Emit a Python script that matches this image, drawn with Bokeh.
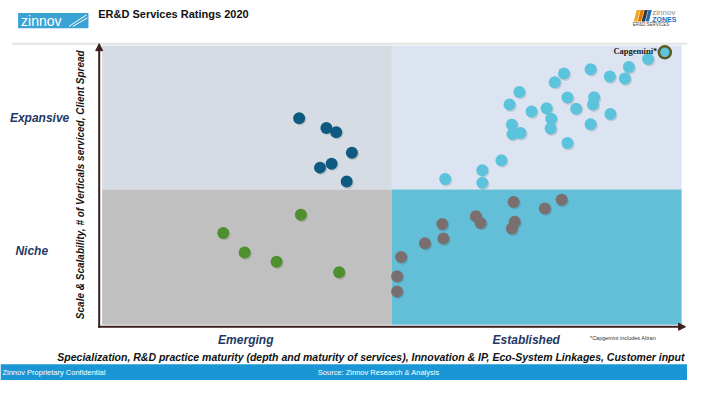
from bokeh.plotting import figure
from bokeh.models import Range1d, Label, Arrow, NormalHead
from bokeh.embed import file_html
from bokeh.resources import INLINE
import math

# ---------------- data (scores on 0-10 scales) ----------------
quad_left = [0, 5, 0, 5]
quad_right = [5, 10, 5, 10]
quad_bottom = [4.85, 4.85, 0, 0]
quad_top = [10, 10, 4.85, 4.85]
quad_colors = ["#D6DCE4", "#DCE4F2", "#C0C0C0", "#62BFD7"]

emerging_expansive_x = [3.40, 3.87, 4.04, 4.31, 3.96, 3.76, 4.22]
emerging_expansive_y = [7.40, 7.05, 6.90, 6.16, 5.77, 5.63, 5.13]

emerging_niche_x = [3.43, 2.09, 2.46, 3.01, 4.09]
emerging_niche_y = [3.94, 3.29, 2.59, 2.26, 1.88]

established_niche_x = [7.10, 7.93, 7.64, 6.45, 6.53, 7.12, 7.07, 5.87, 5.89, 5.57, 5.16, 5.09, 5.09]
established_niche_y = [4.40, 4.48, 4.17, 3.89, 3.65, 3.69, 3.45, 3.61, 3.09, 2.92, 2.43, 1.74, 1.19]

established_expansive_x = [9.42, 9.09, 9.02, 8.76, 8.43, 7.97, 7.81, 7.20, 8.03, 8.49, 8.47, 8.18,
                           7.03, 7.41, 7.67, 7.75, 7.74, 8.77, 8.43, 7.07, 7.08, 7.22, 8.03, 6.89,
                           6.56, 6.56, 5.92]
established_expansive_y = [9.52, 9.23, 8.82, 8.89, 9.15, 9.00, 8.69, 8.34, 8.14, 8.15, 7.89, 7.74,
                           7.89, 7.64, 7.76, 7.38, 7.03, 7.55, 7.18, 7.17, 6.83, 6.87, 6.51, 5.89,
                           5.54, 5.09, 5.22]

highlight_name = ["Capgemini*"]
highlight_x = [9.71]
highlight_y = [9.76]

y_categories = ["Expansive", "Niche"]
x_categories = ["Emerging", "Established"]
y_title = "Scale & Scalability, # of Verticals serviced, Client Spread"
x_title = ("Specialization, R&D practice maturity (depth and maturity of services), "
           "Innovation & IP, Eco-System Linkages, Customer input")
chart_title = "ER&D Services Ratings 2020"
footnote = "*Capgemini includes Altran"
footer_left = "Zinnov Proprietary Confidential"
footer_center = "Source: Zinnov Research & Analysis"

# ---------------- layout helpers (reference pixel -> score space) ----------------
X0, XS = 104.0, 59.3
Y0, YS = 338.0, 29.1


def X(px):
    return (px - X0) / XS


def Y(py):
    return (Y0 - py) / YS


W, H = 687, 380
p = figure(width=W, height=H, output_backend="svg", toolbar_location=None,
           x_range=Range1d(X(0), X(703)), y_range=Range1d(Y(396), Y(0)),
           min_border=0)
p.axis.visible = False
p.xgrid.visible = False
p.ygrid.visible = False
p.outline_line_color = None
p.background_fill_color = "white"
p.border_fill_color = "white"

FONT = "Liberation Sans"

# quadrants
p.quad(left=quad_left, right=quad_right, bottom=quad_bottom, top=quad_top,
       fill_color=quad_colors, line_color=None)


def dots(xs, ys, color):
    p.scatter([x + 0.02 for x in xs], [y - 0.05 for y in ys], size=12,
              fill_color="#000000", fill_alpha=0.12, line_color=None)
    p.scatter(xs, ys, size=12, fill_color=color, line_color=None)


dots(emerging_expansive_x, emerging_expansive_y, "#0F5A80")
dots(emerging_niche_x, emerging_niche_y, "#4E8F2E")
dots(established_niche_x, established_niche_y, "#7B6E6E")
dots(established_expansive_x, established_expansive_y, "#5BC3DB")
p.scatter(highlight_x, highlight_y, size=12, fill_color="#5BC3DB",
          line_color="#5E5A1E", line_width=2.5)
p.text(x=[highlight_x[0] - 0.13], y=[highlight_y[0] + 0.05], text=highlight_name,
       text_font_size="8.5px", text_font_style="bold", text_align="right",
       text_baseline="middle", text_color="#1A1A1A", text_font="Liberation Serif")

# axes arrows
arrow_color = "#3B1E1E"
p.add_layout(Arrow(end=NormalHead(size=7, fill_color=arrow_color, line_color=arrow_color),
                   x_start=X(101), y_start=Y(341), x_end=X(101), y_end=Y(45),
                   line_color=arrow_color, line_width=2))
p.add_layout(Arrow(end=NormalHead(size=7, fill_color=arrow_color, line_color=arrow_color),
                   x_start=X(100), y_start=Y(340), x_end=X(701), y_end=Y(340),
                   line_color=arrow_color, line_width=2))

# category labels
navy = "#1F3864"
for txt, px, py in [(y_categories[0], 40, 122), (y_categories[1], 32, 261),
                    (x_categories[0], 251, 354), (x_categories[1], 538, 354)]:
    p.add_layout(Label(x=X(px), y=Y(py), text=txt, text_font=FONT,
                       text_font_size="12px", text_font_style="bold italic", text_color=navy,
                       text_align="center", text_baseline="middle"))

# axis titles
p.add_layout(Label(x=X(82), y=Y(192), text=y_title, text_font=FONT, angle=math.pi / 2,
                   text_font_size="10px", text_font_style="bold italic", text_color="#111111",
                   text_align="center", text_baseline="middle"))
p.add_layout(Label(x=X(379), y=Y(371), text=x_title, text_font=FONT,
                   text_font_size="10.5px", text_font_style="bold italic", text_color="#111111",
                   text_align="center", text_baseline="middle"))
p.add_layout(Label(x=X(637), y=Y(352), text=footnote, text_font=FONT,
                   text_font_size="5.5px", text_color="#333333",
                   text_align="center", text_baseline="middle"))

# title and header
p.add_layout(Label(x=X(100), y=Y(14), text=chart_title, text_font=FONT,
                   text_font_size="11px", text_font_style="bold", text_color="#111111",
                   text_align="left", text_baseline="middle"))
p.line([X(12), X(703)], [Y(45), Y(45)], line_color="#E3E3E3", line_width=2)

# zinnov logo (left)
p.quad(left=[X(18)], right=[X(90)], bottom=[Y(29)], top=[Y(13)],
       fill_color="#3AA3D3", line_color=None)
p.add_layout(Label(x=X(21), y=Y(21.5), text="zinnov", text_font=FONT,
                   text_font_size="14px", text_color="white",
                   text_align="left", text_baseline="middle"))
p.line([X(70), X(88)], [Y(27), Y(15)], line_color="white", line_width=1)
p.line([X(74), X(89)], [Y(27), Y(18)], line_color="white", line_width=1)

# zinnov zones logo (right)
bar_cols = ["#F5A623", "#E07B00", "#3A3A3A", "#1E6FB8"]
for i, c in enumerate(bar_cols):
    x0 = 648 + i * 4
    p.patch([X(x0), X(x0 + 3.5), X(x0 + 6.5), X(x0 + 3)],
            [Y(22), Y(22), Y(10), Y(10)], fill_color=c, line_color=None)
p.add_layout(Label(x=X(667), y=Y(13), text="zinnov", text_font=FONT,
                   text_font_size="8px", text_color="#8A8A8A",
                   text_align="left", text_baseline="middle"))
p.add_layout(Label(x=X(667), y=Y(20), text="ZONES", text_font=FONT,
                   text_font_size="7px", text_font_style="bold", text_color="#1F6FB5",
                   text_align="left", text_baseline="middle"))
p.add_layout(Label(x=X(647), y=Y(25.5), text="ER&D SERVICES", text_font=FONT,
                   text_font_size="4.5px", text_color="#444444",
                   text_align="left", text_baseline="middle"))

# footer bar
p.quad(left=[X(0)], right=[X(703)], bottom=[Y(396)], top=[Y(379)],
       fill_color="#1B96D4", line_color=None)
p.add_layout(Label(x=X(2), y=Y(387.5), text=footer_left, text_font=FONT,
                   text_font_size="7.5px", text_color="white",
                   text_align="left", text_baseline="middle"))
p.add_layout(Label(x=X(387), y=Y(387.5), text=footer_center, text_font=FONT,
                   text_font_size="7.5px", text_color="white",
                   text_align="center", text_baseline="middle"))

open("out.html", "w").write(file_html(p, INLINE))
